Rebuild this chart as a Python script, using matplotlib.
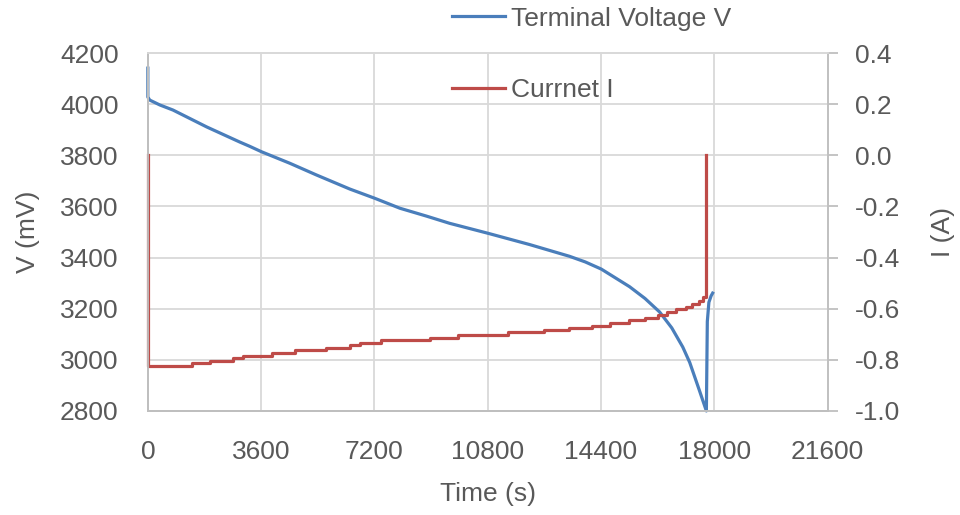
import matplotlib.pyplot as plt
from matplotlib.lines import Line2D

plt.rcParams['font.family'] = ['Liberation Sans', 'DejaVu Sans']

# terminal voltage (mV) vs time (s)
v_time = [0, 0, 60, 380, 800, 1870, 2920, 3240, 3610, 4510, 5360, 6420, 7210,
          8010, 8860, 9590, 10810, 12130, 13400, 13900, 14410, 15310, 15800, 16265,
          16650, 17000, 17220, 17535, 17750, 17780, 17830, 17900, 17950]
v_mv = [4141, 4028, 4016, 3997, 3977, 3911, 3852, 3835, 3814, 3769, 3723, 3668, 3632,
        3593, 3562, 3534, 3495, 3451, 3405, 3383, 3355, 3286, 3240, 3187,
        3125, 3050, 2990, 2878, 2800, 3150, 3225, 3250, 3261]

# current (A), step changes
i_time = [0, 0, 1390, 1970, 2700, 3020, 3930, 4670, 5670, 6420, 6730, 7420, 8960,
          9850, 11440, 12600, 13400, 14100, 14700, 15300, 15800, 16200, 16500,
          16800, 17100, 17300, 17500, 17650, 17750, 17750]
i_amp = [0.0, -0.823, -0.811, -0.803, -0.794, -0.784, -0.772, -0.761, -0.755, -0.742,
         -0.733, -0.722, -0.713, -0.702, -0.692, -0.684, -0.676, -0.667, -0.656,
         -0.645, -0.635, -0.624, -0.614, -0.603, -0.592, -0.582, -0.570, -0.555,
         -0.527, 0.0]

x_ticks = [0, 3600, 7200, 10800, 14400, 18000, 21600]
v_ticks = [2800, 3000, 3200, 3400, 3600, 3800, 4000, 4200]
i_ticks = [-1.0, -0.8, -0.6, -0.4, -0.2, 0.0, 0.2, 0.4]

txt = '#595959'
grid = '#D9D9D9'
axis_c = '#BFBFBF'
blue = '#4A7EBB'
red = '#BE4B48'
fs = 19

fig = plt.figure(figsize=(9.6, 5.15), dpi=100)
ax = fig.add_axes([0.154, 0.202, 0.708, 0.695])
ax2 = ax.twinx()

ax.plot(v_time, v_mv, color=blue, lw=2.3, solid_joinstyle='round', clip_on=False)
ax2.plot(i_time, i_amp, color=red, lw=2.3, drawstyle='steps-post', clip_on=False)

ax.set_xlim(0, 21600)
ax.set_ylim(2800, 4200)
ax2.set_ylim(-1.0, 0.4)
ax.set_xticks(x_ticks)
ax.set_yticks(v_ticks)
ax2.set_yticks(i_ticks)
ax2.set_yticklabels([f'{t:.1f}' for t in i_ticks])

ax.grid(True, color=grid, lw=1.3)
ax.set_axisbelow(True)

for a in (ax, ax2):
    for s in a.spines.values():
        s.set_color(grid)
        s.set_linewidth(1.3)
    a.spines['left'].set_color(axis_c)
    a.spines['bottom'].set_color(axis_c)
ax2.spines['right'].set_color(axis_c)

ax.tick_params(axis='y', length=0, pad=21, labelsize=fs, labelcolor=txt)
ax.tick_params(axis='x', length=0, pad=21, labelsize=fs, labelcolor=txt)
ax2.tick_params(axis='y', length=7, width=1.3, color=axis_c, pad=13,
                labelsize=fs, labelcolor=txt)

ax.set_ylabel('V (mV)', fontsize=fs, color=txt)
ax.yaxis.set_label_coords(-0.158, 0.5)
ax2.set_ylabel('I (A)', fontsize=fs, color=txt, rotation=90)
ax2.yaxis.set_label_coords(1.152, 0.5)
ax.set_xlabel('Time (s)', fontsize=fs, color=txt)
ax.xaxis.set_label_coords(0.5, -0.198)

handles = [Line2D([], [], color=blue, lw=2.3), Line2D([], [], color=red, lw=2.3)]
fig.legend(handles, ['Terminal Voltage V', 'Currnet I'], loc='upper left',
           bbox_to_anchor=(452 / 960, 0.987), frameon=False, fontsize=fs,
           labelcolor=txt, handlelength=2.0, handletextpad=0.25,
           labelspacing=1.8, borderpad=0, borderaxespad=0)

fig.savefig('out.png', dpi=100)
